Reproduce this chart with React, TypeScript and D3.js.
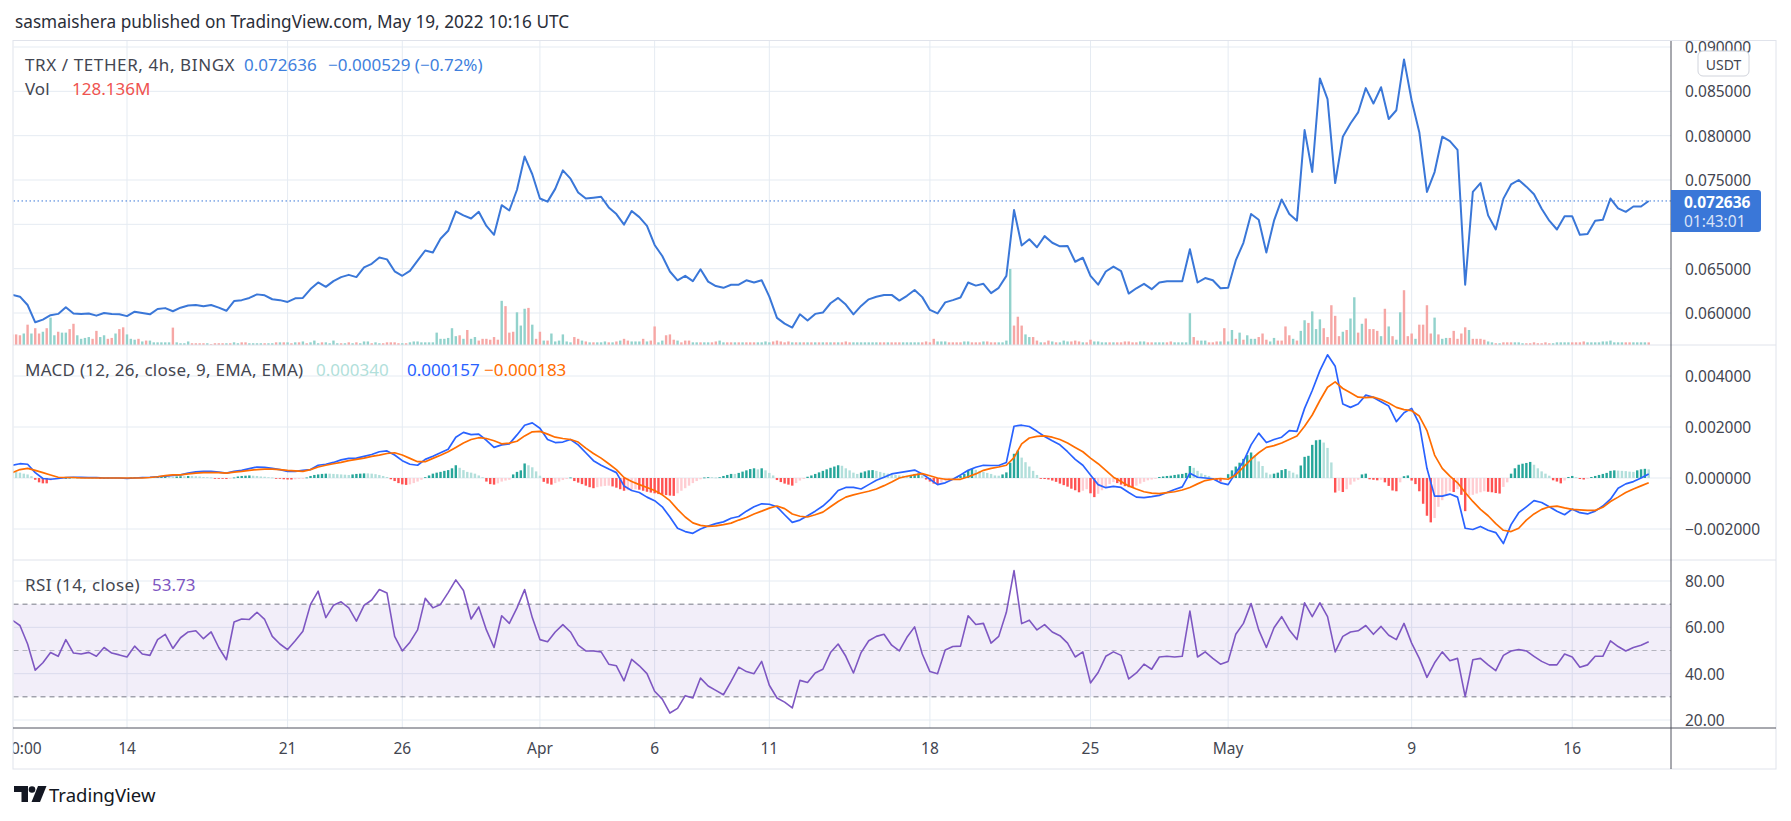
import * as d3 from 'd3';

// TRX / TETHER 4h (BINGX), read off the published snapshot
// line series: one value per 8h starting 2022-03-09 00:00 UTC
// bar series: one value per 4h candle starting 2022-03-09 00:00 UTC
const START = Date.UTC(2022, 2, 9, 0, 0);
const LAST = Date.UTC(2022, 4, 19, 8, 0);
const HOUR = 3600 * 1000;

const closes = [
  0.06204, 0.06184, 0.06090, 0.05895, 0.05925, 0.05975, 0.05990, 0.06065, 0.05995, 0.05990,
  0.05995, 0.05970, 0.06000, 0.05990, 0.05985, 0.05965, 0.06015, 0.06000, 0.05985, 0.06045,
  0.06055, 0.06020, 0.06060, 0.06085, 0.06090, 0.06075, 0.06090, 0.06060, 0.06025, 0.06135,
  0.06145, 0.06170, 0.06210, 0.06200, 0.06155, 0.06145, 0.06125, 0.06165, 0.06170, 0.06270,
  0.06345, 0.06295, 0.06360, 0.06405, 0.06430, 0.06405, 0.06515, 0.06555, 0.06625, 0.06605,
  0.06470, 0.06420, 0.06475, 0.06590, 0.06705, 0.06683, 0.06837, 0.06927, 0.07146, 0.07101,
  0.07066, 0.07141, 0.06982, 0.06882, 0.07216, 0.07156, 0.07390, 0.07764, 0.07565, 0.07291,
  0.07256, 0.07400, 0.07609, 0.07515, 0.07360, 0.07291, 0.07301, 0.07311, 0.07191, 0.07116,
  0.06997, 0.07151, 0.07081, 0.06982, 0.06767, 0.06643, 0.06468, 0.06369, 0.06419, 0.06359,
  0.06493, 0.06354, 0.06304, 0.06284, 0.06319, 0.06319, 0.06369, 0.06344, 0.06369, 0.06184,
  0.05945, 0.05880, 0.05836, 0.05985, 0.05915, 0.05990, 0.06005, 0.06110, 0.06170, 0.06095,
  0.05985, 0.06080, 0.06154, 0.06184, 0.06204, 0.06204, 0.06140, 0.06194, 0.06259, 0.06179,
  0.06035, 0.05995, 0.06120, 0.06145, 0.06174, 0.06344, 0.06309, 0.06329, 0.06224, 0.06284,
  0.06419, 0.07161, 0.06762, 0.06832, 0.06742, 0.06867, 0.06792, 0.06752, 0.06757, 0.06578,
  0.06623, 0.06419, 0.06319, 0.06468, 0.06523, 0.06473, 0.06219, 0.06279, 0.06329, 0.06269,
  0.06344, 0.06359, 0.06359, 0.06359, 0.06718, 0.06344, 0.06394, 0.06369, 0.06279, 0.06284,
  0.06593, 0.06792, 0.07116, 0.07051, 0.06683, 0.07041, 0.07281, 0.07116, 0.07041, 0.08063,
  0.07590, 0.08646, 0.08412, 0.07465, 0.07988, 0.08137, 0.08262, 0.08536, 0.08362, 0.08546,
  0.08188, 0.08287, 0.08860, 0.08397, 0.08039, 0.07366, 0.07590, 0.07988, 0.07938, 0.07839,
  0.06319, 0.07365, 0.07465, 0.07101, 0.06942, 0.07290, 0.07450, 0.07500, 0.07425, 0.07340,
  0.07176, 0.07041, 0.06942, 0.07091, 0.07091, 0.06882, 0.06892, 0.07041, 0.07051, 0.07291,
  0.07181, 0.07141, 0.07201, 0.07201, 0.072636,
];

// MACD and signal, in units of 1e-5 USDT
const macdE5 = [
  50, 56, 54, 21, -2, -5, -2, 2, 3, 3,
  2, 2, 0, 0, 0, -2, 0, 2, 3, 5,
  7, 10, 12, 19, 24, 26, 26, 23, 19, 26,
  30, 37, 43, 42, 38, 33, 26, 26, 30, 33,
  50, 54, 61, 71, 77, 78, 85, 92, 103, 106,
  90, 68, 54, 50, 73, 85, 99, 113, 160, 179,
  170, 172, 148, 120, 130, 134, 169, 207, 216, 195,
  151, 139, 141, 151, 130, 99, 68, 50, 35, 21,
  -31, -49, -57, -75, -89, -113, -153, -197, -210, -217,
  -200, -188, -179, -172, -158, -151, -130, -113, -101, -103,
  -113, -144, -174, -165, -148, -130, -110, -83, -49, -37,
  -37, -43, -26, -9, 3, 16, 21, 26, 31, 16,
  -5, -26, -19, -5, 12, 30, 42, 50, 49, 49,
  61, 203, 207, 202, 183, 163, 146, 130, 103, 73,
  50, 12, -26, -38, -33, -37, -57, -75, -77, -73,
  -68, -57, -45, -35, 19, 3, 0, -3, -19, -26,
  21, 64, 130, 176, 139, 151, 160, 186, 183, 273,
  343, 421, 483, 438, 290, 277, 290, 325, 316, 299,
  282, 221, 256, 273, 212, 38, -71, -71, -63, -75,
  -197, -202, -190, -205, -214, -257, -183, -136, -113, -89,
  -96, -113, -130, -144, -122, -136, -141, -130, -110, -83,
  -40, -23, -14, 0, 15.7,
];

const signalE5 = [
  21, 33, 38, 30, 21, 12, 3, 2, 2, 0,
  0, 0, 0, 0, 0, 0, 0, 0, 2, 5,
  9, 12, 12, 16, 19, 21, 21, 21, 19, 23,
  26, 30, 33, 35, 35, 33, 30, 28, 26, 33,
  43, 50, 56, 61, 68, 73, 78, 85, 90, 96,
  99, 90, 77, 64, 64, 77, 89, 103, 120, 137,
  151, 158, 155, 146, 134, 137, 144, 165, 181, 183,
  172, 160, 155, 151, 141, 117, 96, 78, 56, 33,
  2, -14, -26, -37, -49, -66, -89, -123, -153, -176,
  -186, -190, -188, -183, -177, -165, -155, -141, -130, -118,
  -110, -120, -141, -150, -153, -144, -134, -113, -92, -75,
  -66, -59, -52, -43, -30, -16, 0, 7, 12, 17,
  9, 0, -5, -5, -5, 5, 16, 30, 38, 43,
  50, 80, 134, 157, 163, 165, 160, 151, 137, 120,
  103, 78, 56, 30, 3, -14, -31, -43, -54, -59,
  -61, -57, -54, -47, -37, -23, -10, -5, -2, -5,
  12, 43, 73, 99, 120, 127, 137, 151, 165, 203,
  247, 304, 356, 377, 351, 334, 317, 315, 317, 308,
  294, 277, 268, 264, 243, 186, 90, 38, 7, -19,
  -57, -92, -123, -148, -179, -205, -210, -197, -165, -141,
  -123, -113, -110, -117, -123, -125, -127, -127, -115, -92,
  -75, -57, -43, -31, -18.3,
];

const rsi = [
  63.1, 60.8, 52.8, 41.5, 44.7, 49.1, 47.5, 54.7, 48.9, 48.5,
  49.2, 47.5, 51.3, 48.9, 48.1, 47.2, 51.9, 48.5, 47.9, 54.7,
  57.0, 50.9, 55.5, 58.0, 58.5, 55.1, 58.0, 51.3, 46.0, 62.3,
  63.6, 63.4, 66.5, 63.4, 56.1, 52.8, 50.4, 54.2, 58.3, 69.9,
  75.6, 64.2, 69.5, 71.0, 68.4, 62.7, 69.5, 71.8, 76.3, 74.8,
  56.1, 49.8, 53.6, 58.9, 72.5, 68.4, 69.9, 75.0, 80.5, 75.9,
  63.6, 68.8, 58.9, 51.3, 65.0, 61.7, 68.4, 76.3, 64.2, 54.7,
  53.8, 58.0, 61.2, 58.0, 52.3, 49.8, 49.8, 49.4, 44.1, 43.4,
  36.9, 46.2, 43.4, 40.0, 32.4, 29.0, 23.0, 25.0, 30.5, 29.5,
  38.1, 34.7, 32.8, 30.9, 36.7, 42.8, 40.9, 40.0, 45.3, 35.0,
  29.5, 27.7, 25.2, 37.1, 36.2, 40.3, 41.9, 49.1, 52.8, 47.5,
  40.3, 49.1, 54.2, 56.1, 57.0, 52.3, 49.8, 55.7, 60.2, 48.5,
  40.9, 40.0, 50.2, 51.7, 51.9, 65.0, 61.2, 61.7, 53.2, 56.1,
  66.5, 84.5, 61.6, 63.1, 58.9, 61.2, 58.0, 56.4, 53.2, 47.2,
  49.4, 36.0, 40.5, 47.5, 49.4, 47.9, 37.7, 40.3, 44.1, 41.9,
  47.2, 47.5, 47.2, 47.5, 67.0, 47.2, 49.4, 46.6, 44.1, 45.3,
  57.0, 61.7, 70.3, 58.9, 51.3, 59.8, 64.6, 58.9, 54.7, 70.6,
  64.6, 70.6, 64.6, 49.4, 56.1, 58.0, 58.5, 60.8, 57.0, 60.4,
  56.6, 54.7, 61.7, 53.2, 46.6, 38.4, 44.7, 49.4, 45.6, 46.6,
  30.1, 46.0, 46.6, 43.8, 41.3, 47.9, 49.8, 50.4, 49.8, 47.5,
  45.3, 43.8, 43.8, 48.5, 47.2, 42.8, 43.8, 47.5, 47.5, 54.2,
  51.7, 49.8, 51.3, 52.3, 53.73,
];

// volume per 4h candle, millions of TRX
const volumeM = [
  518, 518, 475, 562, 994, 562, 821, 562, 648, 821,
  1339, 475, 648, 605, 605, 778, 1037, 475, 302, 346,
  389, 302, 691, 389, 475, 302, 346, 562, 778, 864,
  518, 302, 259, 302, 173, 216, 216, 130, 130, 130,
  130, 130, 850, 130, 86, 86, 173, 86, 86, 86,
  86, 86, 43, 86, 86, 86, 86, 86, 130, 86,
  130, 130, 86, 86, 86, 86, 86, 86, 86, 130,
  130, 130, 130, 86, 130, 130, 173, 86, 130, 216,
  86, 130, 130, 86, 216, 86, 86, 86, 130, 86,
  130, 86, 173, 173, 86, 130, 86, 86, 130, 130,
  130, 86, 86, 86, 130, 173, 173, 130, 130, 130,
  130, 605, 302, 302, 346, 821, 432, 475, 302, 734,
  302, 389, 216, 302, 302, 259, 389, 259, 2160, 1900,
  605, 648, 1598, 950, 1771, 1814, 994, 302, 648, 216,
  216, 562, 173, 216, 518, 173, 130, 389, 302, 216,
  173, 130, 130, 130, 130, 173, 130, 130, 173, 216,
  302, 216, 173, 173, 173, 302, 173, 216, 907, 130,
  216, 475, 518, 259, 216, 130, 216, 216, 130, 130,
  130, 130, 130, 130, 173, 216, 130, 130, 130, 130,
  130, 130, 130, 130, 130, 130, 130, 173, 130, 173,
  216, 173, 130, 173, 130, 130, 130, 130, 130, 130,
  130, 130, 130, 130, 130, 130, 130, 130, 173, 130,
  130, 130, 130, 130, 130, 130, 130, 130, 130, 130,
  130, 130, 130, 130, 130, 130, 130, 130, 130, 173,
  130, 302, 173, 173, 173, 130, 130, 130, 130, 173,
  173, 130, 130, 130, 173, 173, 130, 130, 130, 130,
  216, 3715, 950, 1382, 950, 518, 389, 389, 216, 130,
  130, 216, 173, 130, 130, 216, 173, 173, 216, 173,
  130, 130, 259, 173, 173, 130, 130, 130, 130, 130,
  130, 173, 173, 130, 130, 173, 173, 130, 130, 130,
  130, 130, 130, 173, 130, 130, 130, 130, 1555, 389,
  216, 216, 216, 130, 130, 173, 173, 821, 173, 734,
  302, 605, 259, 475, 302, 302, 389, 562, 259, 173,
  346, 216, 216, 907, 475, 302, 216, 691, 1210, 1080,
  1642, 778, 1253, 821, 389, 1944, 1426, 432, 648, 734,
  1296, 2333, 605, 1037, 1296, 778, 778, 691, 432, 1771,
  907, 432, 259, 1598, 2678, 432, 562, 302, 994, 994,
  1944, 562, 1339, 518, 302, 346, 346, 691, 302, 562,
  864, 734, 302, 302, 302, 259, 173, 130, 86, 86,
  130, 130, 130, 130, 130, 86, 86, 86, 130, 86,
  86, 130, 86, 86, 130, 130, 130, 130, 130, 130,
  130, 173, 130, 130, 130, 130, 173, 173, 216, 130,
  130, 130, 130, 130, 130, 130, 130, 130, 128.136,
];

// candle direction per 4h bar: u = close above open, d = below
const candleDir =
  'dddududdud' + 'uuduudduuu' + 'udduudduddd'.slice(0, 10) + 'uuududuuuu' + 'uuduuuuddd' +
  'dudddduduu' + 'dduuuuduud' + 'ududududuu' + 'uduuuududu' + 'duuuduuddd' +
  'dduduuuuuu' + 'uuuuuuudud' + 'uuddddddud' + 'dduuududdu' + 'duuuuuuddu' +
  'duduuududu' + 'dduuududdu' + 'uddduddduu' + 'duudduuddu' + 'duddduuuud' +
  'ddddududud' + 'ududududdd' + 'uuuuuuuddu' + 'ddduuuuudd' + 'dduuuddddu' +
  'uddduddduu' + 'uuddduuddu' + 'dduduuuddd' + 'udduuuudud' + 'ddddduuddu' +
  'uudduuuuud' + 'duuddduduu' + 'duduuudddu' + 'udddduduud' + 'uuudddddud' +
  'uududdddud' + 'uduudddudd' + 'dduduudddd' + 'dudddduudu' + 'ddduuudddd' +
  'ddduuuuudd' + 'dduuuuuuuu' + 'uudduuuud';

// MACD histogram per 4h bar, units of 1e-5 USDT
const histE5 = [
  35, 24, 21, 17, 14, 7, -7, -17, -21, -21,
  -10, -5, -3, -1, 0, 1, 1, 2, 2, 1,
  1, 0, 0, -1, 0, 1, 1, 1, 0, 0,
  0, 2, 3, 3, 4, 4, 4, 3, 4, 5,
  6, 6, 5, 6, 7, 7, 8, 8, 7, 6,
  4, 3, 2, -1, -2, -3, -4, -2, 2, 6,
  8, 9, 10, 9, 8, 6, 5, 3, 2, -1,
  -3, -5, -6, -6, -5, -4, -2, 2, 8, 12,
  14, 16, 17, 17, 16, 15, 14, 13, 12, 14,
  16, 17, 18, 18, 17, 15, 12, 8, 4, -5,
  -12, -20, -25, -27, -25, -20, -14, -7, 3, 10,
  17, 21, 24, 28, 31, 38, 50, 40, 31, 24,
  21, 17, 10, 3, -14, -24, -26, -21, -14, -10,
  -7, 14, 24, 30, 57, 50, 42, 26, 9, -15,
  -22, -26, -20, -14, -8, -4, 2, -12, -18, -24,
  -30, -36, -40, -36, -33, -31, -30, -33, -38, -44,
  -50, -48, -46, -44, -46, -50, -54, -57, -60, -63,
  -65, -67, -69, -70, -60, -50, -40, -30, -20, -12,
  -5, 2, 3, 3, 2, 3, 8, 12, 16, 16,
  20, 25, 30, 35, 38, 34, 38, 30, 20, 10,
  -8, -16, -22, -26, -30, -20, -10, -4, 5, 10,
  16, 22, 28, 34, 40, 45, 50, 48, 38, 30,
  21, 16, 21, 26, 30, 31, 28, 24, 20, 17,
  14, 12, 10, 9, 8, 12, 16, 18, 10, -6,
  -14, -22, -24, -18, -10, -5, -2, 4, 8, 16,
  30, 36, 32, 28, 24, 20, 16, 10, 9, 14,
  22, 60, 95, 108, 80, 62, 45, 28, 12, -3,
  -4, -6, -10, -15, -22, -28, -34, -42, -48, -56,
  -50, -44, -60, -75, -62, -48, -36, -24, -16, -20,
  -26, -32, -36, -38, -30, -22, -15, -9, -6, -3,
  4, 6, 8, 9, 12, 14, 16, 20, 47, 40,
  28, 18, 12, 8, -5, -10, -14, -8, 15, 30,
  45, 60, 75, 90, 100, 90, 65, 47, 21, 14,
  17, 21, 31, 35, 28, 21, 14, 49, 83, 87,
  130, 148, 150, 139, 118, 61, -57, -50, -55, -44,
  -26, -14, -7, 14, 17, -5, -7, -9, -7, -17,
  -31, -49, -52, -17, 7, 10, -10, -24, -52, -101,
  -148, -174, -157, -113, -87, -70, -52, -55, -44, -66,
  -130, -70, -66, -61, -56, -52, -54, -56, -59, -61,
  -35, -17, 17, 38, 52, 56, 59, 63, 52, 38,
  26, 17, 9, -9, -14, -21, -10, 4, 8, 3,
  -4, -6, -3, 4, 8, 12, 16, 20, 28, 30,
  29, 28, 27, 25, 24, 30, 34, 36, 34,
];

const priceTicks = [0.09, 0.085, 0.08, 0.075, 0.07, 0.065, 0.06];
const macdTicks = [0.004, 0.002, 0, -0.002];
const rsiTicks = [80, 60, 40, 20];
const timeTicks = [
  { t: '2022-03-09T10:00:00Z', label: '10:00', grid: false },
  { t: '2022-03-14T00:00:00Z', label: '14', grid: true },
  { t: '2022-03-21T00:00:00Z', label: '21', grid: true },
  { t: '2022-03-26T00:00:00Z', label: '26', grid: true },
  { t: '2022-04-01T00:00:00Z', label: 'Apr', grid: true },
  { t: '2022-04-06T00:00:00Z', label: '6', grid: true },
  { t: '2022-04-11T00:00:00Z', label: '11', grid: true },
  { t: '2022-04-18T00:00:00Z', label: '18', grid: true },
  { t: '2022-04-25T00:00:00Z', label: '25', grid: true },
  { t: '2022-05-01T00:00:00Z', label: 'May', grid: true },
  { t: '2022-05-09T00:00:00Z', label: '9', grid: true },
  { t: '2022-05-16T00:00:00Z', label: '16', grid: true },
];

const FONT = '"Noto Sans", "DejaVu Sans", sans-serif';
const TXT = '#434651';
const GRID = '#e5ebf2';
const AXIS = '#50535e';
const BLUE = '#3a77d8';
const MINUS = '\u2212';

export default function App() {
  const L = 13.5, R = 1671, FR = 1776;
  const P1 = [41, 345], P2 = [345, 560], P3 = [560, 728], TB = 769;
  const AXF = 15.5, LGF = 17;

  const x = d3.scaleUtc().domain([new Date(START), new Date(LAST)]).range([12.3, 1648.7]);
  const t8 = (i: number) => new Date(START + i * 8 * HOUR);
  const t4 = (i: number) => new Date(START + i * 4 * HOUR);

  const yP = d3.scaleLinear().domain([0.06, 0.09]).range([313, 47]);
  const yV = d3.scaleLinear().domain([0, 3715]).range([P1[1], 269]);
  const yM = d3.scaleLinear().domain([-0.002, 0.004]).range([529, 376]);
  const yR = d3.scaleLinear().domain([20, 80]).range([720, 581]);

  const priceLine = d3.line<number>().x((_, i) => x(t8(i))).y(d => yP(d))(closes) || '';
  const macdLine = d3.line<number>().x((_, i) => x(t8(i))).y(d => yM(d * 1e-5))(macdE5) || '';
  const sigLine = d3.line<number>().x((_, i) => x(t8(i))).y(d => yM(d * 1e-5))(signalE5) || '';
  const rsiLine = d3.line<number>().x((_, i) => x(t8(i))).y(d => yR(d))(rsi) || '';

  const barW = 2.4;
  const last = closes[closes.length - 1];
  const boxTop = yP(last) - 11, boxBot = yP(last) + 31;

  const histColor = (i: number) => {
    const v = histE5[i];
    const prev = i > 0 ? histE5[i - 1] : v;
    if (v >= 0) return prev < v ? '#26a69a' : '#b2dfdb';
    return prev < v ? '#ffcdd2' : '#ff5252';
  };

  const fmtPrice = (v: number) => v.toFixed(6);
  const fmtMacd = (v: number) => (v < 0 ? MINUS : '') + Math.abs(v).toFixed(6);

  return (
    <svg width={1791} height={821} style={{ position: 'absolute', left: 0, top: 0, background: '#fff' }}
      fontFamily={FONT}>
      <defs>
        <clipPath id="c1"><rect x={L} y={P1[0]} width={R - L} height={P1[1] - P1[0]} /></clipPath>
        <clipPath id="c2"><rect x={L} y={P2[0]} width={R - L} height={P2[1] - P2[0]} /></clipPath>
        <clipPath id="c3"><rect x={L} y={P3[0]} width={R - L} height={P3[1] - P3[0]} /></clipPath>
        <clipPath id="ax1"><rect x={R} y={P1[0]} width={FR - R} height={P1[1] - P1[0]} /></clipPath>
        <clipPath id="ax3"><rect x={R} y={P3[0]} width={FR - R} height={P3[1] - P3[0]} /></clipPath>
        <clipPath id="tx"><rect x={L} y={P3[1]} width={R - L} height={TB - P3[1]} /></clipPath>
      </defs>
      <rect width={1791} height={821} fill="#fff" />

      <text x={15} y={28} fontSize={17.2} fill="#2a2e39">
        sasmaishera published on TradingView.com, May 19, 2022 10:16 UTC
      </text>

      {/* frame */}
      <rect x={13} y={40.5} width={FR - 13} height={TB - 40.5} fill="none" stroke="#e0e3eb" />

      {/* grids */}
      {priceTicks.map(v => (
        <line key={'gp' + v} x1={L} x2={R} y1={yP(v)} y2={yP(v)} stroke={GRID} />
      ))}
      {macdTicks.map(v => (
        <line key={'gm' + v} x1={L} x2={R} y1={yM(v)} y2={yM(v)} stroke={GRID} />
      ))}
      {rsiTicks.map(v => (
        <line key={'gr' + v} x1={L} x2={R} y1={yR(v)} y2={yR(v)} stroke={GRID} />
      ))}
      {timeTicks.filter(d => d.grid).map(d => (
        <line key={'gt' + d.t} x1={x(new Date(d.t))} x2={x(new Date(d.t))} y1={P1[0]} y2={P3[1]} stroke={GRID} />
      ))}

      {/* pane 1: price + volume */}
      <g clipPath="url(#c1)">
        {volumeM.map((v, i) => (
          <rect key={'v' + i} x={x(t4(i)) - barW / 2} y={yV(v)} width={barW} height={P1[1] - yV(v)}
            fill={candleDir[i] === 'u' ? '#92d2cc' : '#f6a7a5'} />
        ))}
        <line x1={L} x2={R} y1={yP(last)} y2={yP(last)} stroke={BLUE} strokeWidth={1} strokeDasharray="1.5 2.5" />
        <path d={priceLine} fill="none" stroke={BLUE} strokeWidth={2} strokeLinejoin="round" />
      </g>

      {/* pane 2: MACD */}
      <g clipPath="url(#c2)">
        {histE5.map((v, i) => {
          const y0 = yM(0), y1 = yM(v * 1e-5);
          return (
            <rect key={'h' + i} x={x(t4(i)) - barW / 2} y={Math.min(y0, y1)} width={barW}
              height={Math.max(0.8, Math.abs(y1 - y0))} fill={histColor(i)} />
          );
        })}
        <path d={macdLine} fill="none" stroke="#2962ff" strokeWidth={1.7} strokeLinejoin="round" />
        <path d={sigLine} fill="none" stroke="#ff6d00" strokeWidth={1.7} strokeLinejoin="round" />
      </g>

      {/* pane 3: RSI */}
      <g clipPath="url(#c3)">
        <rect x={L} y={yR(70)} width={R - L} height={yR(30) - yR(70)} fill="rgba(126,87,194,0.1)" />
        <line x1={L} x2={R} y1={yR(70)} y2={yR(70)} stroke="#787b86" strokeDasharray="5 4" />
        <line x1={L} x2={R} y1={yR(50)} y2={yR(50)} stroke="rgba(120,123,134,0.5)" strokeDasharray="5 4" />
        <line x1={L} x2={R} y1={yR(30)} y2={yR(30)} stroke="#787b86" strokeDasharray="5 4" />
        <path d={rsiLine} fill="none" stroke="#7e57c2" strokeWidth={1.6} strokeLinejoin="round" />
      </g>

      {/* pane separators and axes */}
      <line x1={13} x2={FR} y1={P2[0]} y2={P2[0]} stroke="#e0e3eb" />
      <line x1={13} x2={FR} y1={P3[0]} y2={P3[0]} stroke="#e0e3eb" />
      <line x1={13} x2={FR} y1={P3[1]} y2={P3[1]} stroke={AXIS} />
      <line x1={R} x2={R} y1={P1[0]} y2={TB} stroke={AXIS} />

      {/* price axis (labels under the last-price badge are hidden, as on the platform) */}
      <g clipPath="url(#ax1)" fontSize={AXF} fill={TXT}>
        {priceTicks.filter(v => yP(v) < boxTop - 6 || yP(v) > boxBot + 6).map(v => (
          <text key={'lp' + v} x={1685} y={yP(v)} dominantBaseline="central">{fmtPrice(v)}</text>
        ))}
      </g>
      <rect x={1698} y={51} width={51} height={25} rx={5} fill="#fff" stroke="#d1d4dc" />
      <text x={1723.5} y={64} fontSize={14} fill={TXT} textAnchor="middle" dominantBaseline="central">USDT</text>
      <path d={`M${R},${boxTop} H1758 a3,3 0 0 1 3,3 V${boxBot - 3} a3,3 0 0 1 -3,3 H${R} Z`} fill={BLUE} />
      <text x={1684} y={yP(last) + 1.5} fontSize={AXF} fontWeight={700} fill="#fff" dominantBaseline="central">
        {fmtPrice(last)}
      </text>
      <text x={1684} y={yP(last) + 20} fontSize={AXF} fill="rgba(255,255,255,0.82)" dominantBaseline="central">01:43:01</text>

      <g fontSize={AXF} fill={TXT}>
        {macdTicks.map(v => (
          <text key={'lm' + v} x={1685} y={yM(v)} dominantBaseline="central">{fmtMacd(v)}</text>
        ))}
      </g>
      <g clipPath="url(#ax3)" fontSize={AXF} fill={TXT}>
        {rsiTicks.map(v => (
          <text key={'lr' + v} x={1685} y={yR(v)} dominantBaseline="central">{v.toFixed(2)}</text>
        ))}
      </g>

      {/* time axis */}
      <g clipPath="url(#tx)" fontSize={AXF} fill={TXT}>
        {timeTicks.map(d => (
          <text key={'lt' + d.t} x={x(new Date(d.t))} y={748} textAnchor="middle" dominantBaseline="central">
            {d.label}
          </text>
        ))}
      </g>

      {/* legends */}
      <g fontSize={LGF} dominantBaseline="central">
        <text x={25} y={64} fill={TXT} letterSpacing={0.6}>TRX / TETHER, 4h, BINGX</text>
        <text x={244} y={64} fill="#3f7fdd">{fmtPrice(last)}</text>
        <text x={328} y={64} fill="#3f7fdd">{MINUS}0.000529 ({MINUS}0.72%)</text>

        <text x={25} y={88} fill={TXT}>Vol</text>
        <text x={72} y={88} fill="#ef5350">128.136M</text>

        <text x={25} y={369} fill={TXT} letterSpacing={0.28}>MACD (12, 26, close, 9, EMA, EMA)</text>
        <text x={316} y={369} fill="#b2dfdb">{fmtMacd(histE5[histE5.length - 1] * 1e-5)}</text>
        <text x={407} y={369} fill="#2962ff">{fmtMacd(macdE5[macdE5.length - 1] * 1e-5)}</text>
        <text x={484} y={369} fill="#ff6d00">{fmtMacd(signalE5[signalE5.length - 1] * 1e-5)}</text>

        <text x={25} y={584} fill={TXT} letterSpacing={0.38}>RSI (14, close)</text>
        <text x={152} y={584} fill="#7e57c2">{rsi[rsi.length - 1].toFixed(2)}</text>
      </g>

      {/* TradingView mark */}
      <g fill="#131722">
        <path d="M14,786 H28 V802 H21.5 V792 H14 Z" />
        <circle cx={32} cy={789.5} r={3.3} />
        <path d="M38,786 H46.5 L40,802 H31.5 Z" />
      </g>
      <text x={49} y={794} fontSize={18.5} fill="#131722" dominantBaseline="central">TradingView</text>
    </svg>
  );
}
